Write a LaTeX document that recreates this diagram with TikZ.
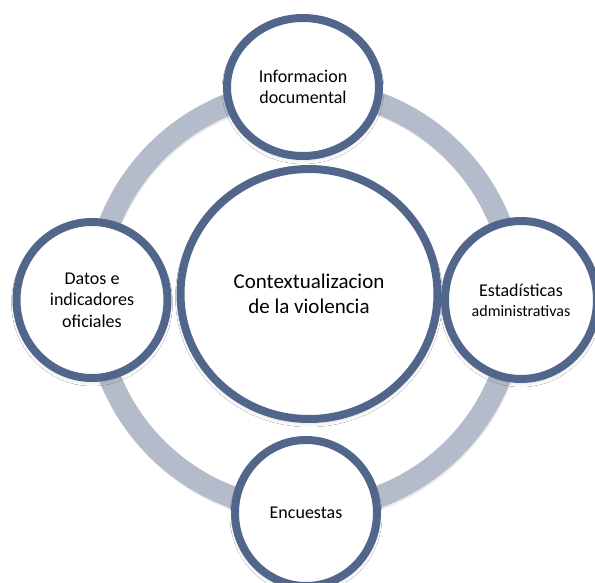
\documentclass[tikz,border=0pt]{standalone}
\usepackage{fontspec}
\setmainfont{Carlito}
\usetikzlibrary{shapes.geometric,shadows.blur}
\definecolor{edgeblue}{RGB}{82,102,140}
\definecolor{ringgray}{RGB}{180,187,203}
\tikzset{
  bubble/.style={ellipse, draw=edgeblue, line width=8pt, fill=white, inner sep=0pt, align=center,
    blur shadow={shadow xshift=0pt, shadow yshift=-3pt, shadow blur radius=5pt, shadow opacity=20}},
  txt/.style={font=\fontsize{18}{21.5}\selectfont}
}
\begin{document}
\begin{tikzpicture}[x=1pt,y=-1pt]
\useasboundingbox (0,0) rectangle (595,583);
\fill[white] (0,0) rectangle (595,583);
% ring
\draw[black!20, opacity=0.4, line width=20pt] (306,303) circle[radius=210pt];
\draw[ringgray, line width=22pt] (305,300) circle[radius=210pt];
% circles
\node[bubble, minimum width=257pt, minimum height=250pt, font=\fontsize{21}{24.5}\selectfont] (ctr) at (309,294) {Contextualizacion\\de la violencia};
\node[bubble, txt, minimum width=152pt, minimum height=138pt] (top) at (303,87) {Informacion\\documental};
\node[bubble, txt, minimum width=151pt, minimum height=156pt] (left) at (92,300) {Datos e\\indicadores\\oficiales};
\node[bubble, minimum width=152pt, minimum height=158pt, font=\fontsize{18}{19}\selectfont] (right) at (521,300) {Estadísticas\\[1pt]{\fontsize{16}{19}\selectfont administrativas}};
\node[bubble, txt, minimum width=142pt, minimum height=146pt] (bot) at (306,513) {Encuestas};
\end{tikzpicture}
\end{document}
